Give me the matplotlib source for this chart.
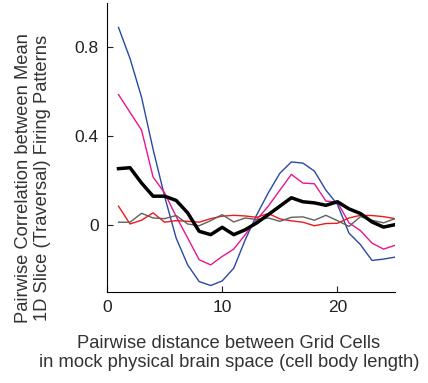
from matplotlib import pyplot as plt

plt.rcParams['font.family'] = ['Liberation Sans', 'DejaVu Sans']

dist = list(range(1, 26))

blue = [0.89, 0.75, 0.576, 0.342, 0.13, -0.057, -0.178, -0.253, -0.271, -0.25,
        -0.193, -0.065, 0.048, 0.146, 0.234, 0.285, 0.28, 0.244, 0.158, 0.094,
        -0.035, -0.087, -0.158, -0.152, -0.143]
magenta = [0.588, 0.508, 0.428, 0.217, 0.146, 0.04, -0.057, -0.155, -0.178, -0.14,
           -0.107, -0.042, 0.026, 0.086, 0.158, 0.229, 0.19, 0.187, 0.109, 0.104,
           0.011, -0.024, -0.08, -0.107, -0.09]
mean = [0.255, 0.259, 0.19, 0.131, 0.131, 0.112, 0.056, -0.027, -0.042, -0.009,
        -0.042, -0.02, 0.011, 0.048, 0.086, 0.124, 0.106, 0.101, 0.09, 0.106,
        0.074, 0.053, 0.015, -0.008, 0.003]
red = [0.086, 0.006, 0.023, 0.056, 0.014, 0.021, 0.018, 0.014, 0.03, 0.041,
       0.045, 0.042, 0.036, 0.053, 0.029, 0.02, 0.014, -0.002, 0.008, 0.009,
       0.033, 0.045, 0.044, 0.039, 0.03]
gray = [0.014, 0.014, 0.054, 0.033, 0.03, 0.044, 0.006, -0.002, 0.021, 0.048,
        0.015, 0.033, 0.026, 0.033, 0.018, 0.036, 0.038, 0.023, 0.045, 0.021,
        -0.005, 0.039, 0.023, 0.011, 0.03]

fig = plt.figure(figsize=(4.28, 3.83), dpi=100)
ax = fig.add_axes([0.25, 0.2376, 0.673, 0.7545])

ax.plot(dist, blue, color='#2A48A6', lw=1.0)
ax.plot(dist, magenta, color='#E8158E', lw=1.0)
ax.plot(dist, red, color='#F01818', lw=1.0)
ax.plot(dist, gray, color='#606060', lw=1.0)
ax.plot(dist, mean, color='black', lw=2.5)

ax.set_xlim(0, 25)
ax.set_ylim(-0.3, 1.0)
ax.set_xticks([0, 10, 20])
ax.set_yticks([0, 0.4, 0.8])
ax.set_yticklabels(['0', '0.4', '0.8'])
ax.tick_params(direction='in', length=4, labelsize=12.5, colors='#222222', pad=6)
for s in ['top', 'right']:
    ax.spines[s].set_visible(False)

txt = '#333333'
fig.text(0.535, 0.078, 'Pairwise distance between Grid Cells\nin mock physical brain space (cell body length)',
         ha='center', va='center', fontsize=13.2, color=txt, linespacing=1.2)
fig.text(0.077, 0.535, 'Pairwise Correlation between Mean\n1D Slice (Traversal) Firing Patterns',
         ha='center', va='center', rotation=90, fontsize=13.2, color=txt, linespacing=1.15)

fig.savefig('out.png', dpi=100)
